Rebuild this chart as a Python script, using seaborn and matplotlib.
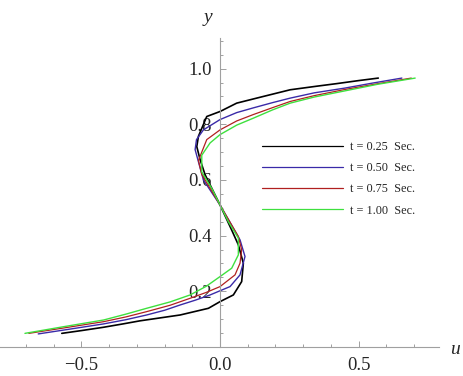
import numpy as np
import pandas as pd
import matplotlib
matplotlib.use("Agg")
import matplotlib.pyplot as plt
from matplotlib.lines import Line2D
from matplotlib.ticker import MultipleLocator
import seaborn as sns

# Velocity profiles u(y), one list pair per time
u_025 = [-0.571, -0.50, -0.42, -0.35, -0.289, -0.144, -0.042, 0.0, 0.048, 0.078, 0.084, 0.066, 0.042,
         0.0, -0.054, -0.072, -0.084, -0.078, -0.048, 0.0, 0.06, 0.156, 0.253, 0.35, 0.42, 0.50, 0.571]
y_025 = [0.049, 0.059, 0.071, 0.083, 0.094, 0.115, 0.139, 0.163, 0.187, 0.235, 0.301, 0.367, 0.42,
         0.51, 0.619, 0.673, 0.72, 0.757, 0.828, 0.846, 0.876, 0.90, 0.924, 0.937, 0.946, 0.957, 0.966]

u_050 = [-0.656, -0.55, -0.42, -0.34, -0.265, -0.20, -0.144, -0.09, -0.036, 0.036, 0.072, 0.09, 0.072, 0.0,
         -0.06, -0.09, -0.085, -0.06, 0.0, 0.06, 0.12, 0.19, 0.253, 0.34, 0.45, 0.55, 0.656]
y_050 = [0.047, 0.063, 0.083, 0.098, 0.115, 0.132, 0.151, 0.168, 0.187, 0.217, 0.259, 0.325, 0.385, 0.51,
         0.60, 0.709, 0.745, 0.78, 0.817, 0.842, 0.859, 0.878, 0.894, 0.913, 0.93, 0.948, 0.966]

u_075 = [-0.69, -0.56, -0.42, -0.34, -0.265, -0.18, -0.108, -0.05, 0.0, 0.054, 0.072, 0.078, 0.066, 0.0,
         -0.066, -0.078, -0.072, -0.048, 0.0, 0.06, 0.12, 0.19, 0.253, 0.34, 0.45, 0.57, 0.69]
y_075 = [0.049, 0.069, 0.091, 0.108, 0.127, 0.150, 0.175, 0.196, 0.217, 0.259, 0.301, 0.349, 0.397, 0.51,
         0.62, 0.67, 0.685, 0.745, 0.78, 0.812, 0.835, 0.860, 0.882, 0.903, 0.925, 0.946, 0.966]

u_100 = [-0.704, -0.57, -0.42, -0.34, -0.265, -0.18, -0.108, -0.05, 0.0, 0.042, 0.066, 0.066, 0.03, 0.0,
         -0.03, -0.066, -0.066, -0.036, 0.0, 0.06, 0.12, 0.19, 0.253, 0.34, 0.45, 0.57, 0.704]
y_100 = [0.049, 0.072, 0.097, 0.118, 0.139, 0.162, 0.187, 0.218, 0.253, 0.283, 0.331, 0.391, 0.45, 0.51,
         0.57, 0.629, 0.689, 0.733, 0.763, 0.797, 0.822, 0.852, 0.876, 0.898, 0.92, 0.944, 0.966]

labels = ["t = 0.25  Sec.", "t = 0.50  Sec.", "t = 0.75  Sec.", "t = 1.00  Sec."]
colors = ["#000000", "#3a2aa8", "#b02020", "#3ee03e"]
widths = [1.2, 1.0, 0.9, 1.0]

frames = []
for lab, uu, yy in zip(labels, [u_025, u_050, u_075, u_100], [y_025, y_050, y_075, y_100]):
    frames.append(pd.DataFrame({"u": uu, "y": yy, "t": lab}))
df = pd.concat(frames, ignore_index=True)

sns.set_style("white")
plt.rcParams["font.family"] = ["Liberation Serif", "DejaVu Serif"]

fig = plt.figure(figsize=(4.63, 3.76), dpi=100)
ax = fig.add_axes([0.0, 29 / 376, 439 / 463, 309 / 376])

for lab, col, lw in zip(labels, colors, widths):
    sns.lineplot(data=df[df["t"] == lab], x="u", y="y", sort=False, estimator=None,
                 color=col, lw=lw, ax=ax, legend=False)

ax.set_xlim(-0.794, 0.79)
ax.set_ylim(0, 1.11)
ax.set_xlabel("")
ax.set_ylabel("")

# Mathematica-style axes crossing at the origin
for s in ["top", "right"]:
    ax.spines[s].set_visible(False)
ax.spines["left"].set_position(("data", 0))
ax.spines["bottom"].set_position(("data", 0))
for s in ["left", "bottom"]:
    ax.spines[s].set_color("#a0a0a0")
    ax.spines[s].set_linewidth(0.8)

ax.set_xticks([-0.5, 0.0, 0.5])
ax.set_xticklabels(["\u22120.5", "0.0", "0.5"])
ax.set_yticks([0.2, 0.4, 0.6, 0.8, 1.0])
ax.set_yticklabels(["0.2", "0.4", "0.6", "0.8", "1.0"])
ax.xaxis.set_minor_locator(MultipleLocator(0.1))
ax.yaxis.set_minor_locator(MultipleLocator(0.05))
ax.tick_params(which="both", direction="in", color="#a0a0a0", width=0.7, labelsize=13.5,
               bottom=True, left=True)
ax.tick_params(which="major", length=4.5)
ax.tick_params(which="minor", length=2.5)
ax.tick_params(axis="x", pad=7)
ax.tick_params(axis="y", pad=6)

fig.text(208 / 463, 1 - 18 / 376, "y", fontsize=14, style="italic", ha="center", va="center")
fig.text(455 / 463, 1 - 350 / 376, "u", fontsize=14, style="italic", ha="center", va="center")

handles = [Line2D([], [], color=c, lw=0.9) for c in colors]
ax.legend(handles, labels, loc="upper left", bbox_to_anchor=(262 / 463, 1 - 141 / 376),
          bbox_transform=fig.transFigure, frameon=False, fontsize=8.8,
          handlelength=6.6, handletextpad=0.57, labelspacing=0.75, borderpad=0, borderaxespad=0)

fig.savefig("out.png", dpi=100, facecolor="white")
